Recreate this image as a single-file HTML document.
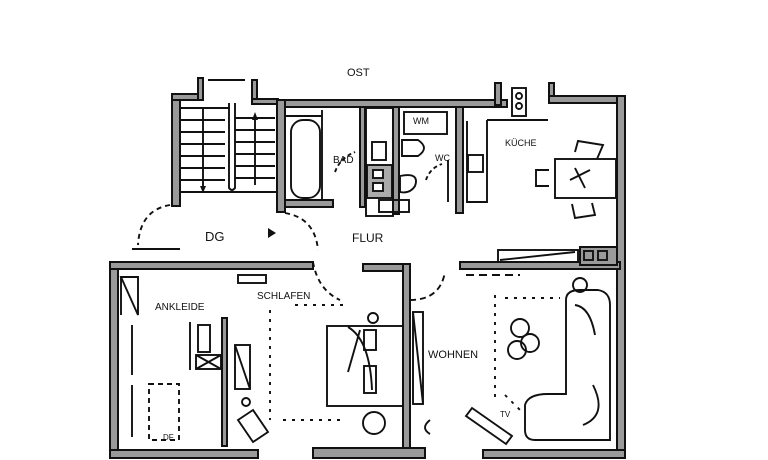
<!DOCTYPE html>
<html><head><style>
html,body{margin:0;padding:0;background:#fff;width:768px;height:460px;overflow:hidden}
svg{display:block}
text{font-family:"Liberation Sans",sans-serif;fill:#111}
</style></head><body>
<svg width="768" height="460" viewBox="0 0 768 460" xmlns="http://www.w3.org/2000/svg">
<g fill="#9a9a9a" stroke="#111" stroke-width="2">
<rect x="172" y="94" width="8" height="112"/>
<rect x="172" y="94" width="30" height="6"/>
<rect x="198" y="78" width="5" height="22"/>
<rect x="252" y="80" width="5" height="22"/>
<rect x="252" y="99" width="26" height="5"/>
<rect x="277" y="100" width="230" height="7"/>
<rect x="277" y="100" width="8" height="112"/>
<rect x="285" y="200" width="48" height="7"/>
<rect x="495" y="83" width="6" height="22"/>
<rect x="549" y="83" width="5" height="20"/>
<rect x="549" y="96" width="76" height="7"/>
<rect x="617" y="96" width="8" height="362"/>
<rect x="393" y="107" width="6" height="107"/>
<rect x="456" y="107" width="7" height="106"/>
<rect x="360" y="107" width="5" height="100"/>
<rect x="110" y="262" width="8" height="196"/>
<rect x="110" y="262" width="203" height="7"/>
<rect x="110" y="450" width="148" height="8"/>
<rect x="222" y="318" width="5" height="128"/>
<rect x="363" y="264" width="47" height="7"/>
<rect x="403" y="264" width="7" height="186"/>
<rect x="313" y="448" width="112" height="10"/>
<rect x="460" y="262" width="160" height="7"/>
<rect x="483" y="450" width="142" height="8"/>
<rect x="580" y="247" width="37" height="18"/>
</g>
<g fill="none" stroke="#111" stroke-width="1.9">
<line x1="180" y1="108" x2="230" y2="108"/><line x1="180" y1="120" x2="225" y2="120"/>
<line x1="180" y1="132" x2="225" y2="132"/><line x1="180" y1="144" x2="225" y2="144"/>
<line x1="180" y1="156" x2="225" y2="156"/><line x1="180" y1="168" x2="225" y2="168"/>
<line x1="180" y1="180" x2="225" y2="180"/><line x1="180" y1="192" x2="277" y2="192"/>
<line x1="235" y1="118" x2="275" y2="118"/><line x1="235" y1="130" x2="275" y2="130"/>
<line x1="235" y1="142" x2="275" y2="142"/><line x1="235" y1="154" x2="275" y2="154"/>
<line x1="235" y1="166" x2="275" y2="166"/><line x1="235" y1="178" x2="275" y2="178"/>
<path d="M229 103 V188 Q232 192 235 188 V103"/>
<line x1="203" y1="108" x2="203" y2="188"/><line x1="255" y1="115" x2="255" y2="185"/>
<line x1="208" y1="80" x2="245" y2="80"/>
<rect x="291" y="120" width="29" height="78" rx="12"/>
<line x1="285" y1="116" x2="322" y2="116"/><line x1="322" y1="110" x2="322" y2="200"/>
<path d="M335 172 Q340 158 355 152" stroke-dasharray="4 3"/>
<rect x="366" y="108" width="27" height="108"/>
<rect x="372" y="142" width="14" height="18"/>
<rect x="367" y="165" width="25" height="33" fill="#aaa"/>
<rect x="373" y="170" width="10" height="8" fill="#fff"/><rect x="373" y="183" width="10" height="8" fill="#fff"/>
<rect x="379" y="200" width="30" height="12"/>
<rect x="404" y="112" width="43" height="22"/>
<path d="M402 140 h16 q12 8 0 16 h-16z"/>
<path d="M400 176 q20 -4 15 10 q-5 8 -15 6z"/>
<path d="M426 180 Q430 168 442 164" stroke-dasharray="4 3"/>
<line x1="448" y1="160" x2="448" y2="202"/>
<rect x="512" y="88" width="14" height="28"/>
<circle cx="519" cy="96" r="3"/><circle cx="519" cy="106" r="3"/>
<polyline points="487,120 487,202 467,202 467,121"/>
<line x1="487" y1="120" x2="548" y2="120"/>
<rect x="468" y="155" width="15" height="17"/>
<rect x="555" y="159" width="61" height="39"/>
<path d="M575 152 l3 -11 l25 4 l-6 14"/>
<path d="M549 170 h-13 v16 h13"/>
<path d="M572 204 l3 14 l20 -3 l-3 -12"/>
<path d="M570 180 l20 -10 M575 168 l10 20"/>
<rect x="498" y="250" width="80" height="12"/><line x1="500" y1="260" x2="575" y2="252"/>
<rect x="584" y="251" width="9" height="9"/><rect x="598" y="251" width="9" height="9"/>
<path d="M170 205 Q140 210 138 245" stroke-dasharray="5 4"/>
<path d="M285 213 Q315 218 318 250" stroke-dasharray="5 4"/>
<line x1="132" y1="249" x2="180" y2="249"/>
<path d="M121 277 h17 v38 z"/><line x1="121" y1="277" x2="121" y2="315"/>
<line x1="132" y1="325" x2="132" y2="375"/><line x1="132" y1="385" x2="132" y2="437"/>
<line x1="190" y1="322" x2="190" y2="370"/>
<rect x="198" y="325" width="12" height="27"/>
<rect x="196" y="355" width="25" height="14"/><path d="M196 355 l25 14 M221 355 l-25 14"/>
<rect x="235" y="345" width="15" height="44"/><line x1="235" y1="345" x2="250" y2="389"/>
<rect x="149" y="384" width="30" height="56" stroke-dasharray="5 4"/>
<circle cx="246" cy="402" r="4"/>
<path d="M238 420 l15 -10 l15 22 l-15 10z"/>
<rect x="238" y="275" width="28" height="8"/>
<path d="M313 262 Q318 290 340 300" stroke-dasharray="5 4"/>
<path d="M270 310 L270 420 M295 305 L345 305 M283 420 L340 420" stroke-dasharray="3 6"/>
<rect x="327" y="326" width="76" height="80"/>
<path d="M348 327 Q370 340 372 390 M348 372 L360 330"/>
<rect x="364" y="330" width="12" height="20"/><rect x="364" y="366" width="12" height="27"/>
<circle cx="373" cy="318" r="5"/>
<circle cx="374" cy="423" r="11"/>
<rect x="413" y="312" width="10" height="92"/><line x1="413" y1="312" x2="423" y2="404"/>
<path d="M410 300 Q440 300 445 272" stroke-dasharray="6 4"/>
<path d="M430 420 q-10 8 0 14"/>
<line x1="466" y1="275" x2="520" y2="275" stroke-dasharray="8 5"/>
<circle cx="580" cy="285" r="7"/>
<path d="M495 295 L495 400 M505 298 L560 298 M505 395 L520 410" stroke-dasharray="3 6"/>
<circle cx="520" cy="328" r="9"/><circle cx="530" cy="343" r="9"/><circle cx="517" cy="350" r="9"/>
<path d="M566 300 Q566 290 580 290 L598 290 Q610 292 610 305 L610 440 L535 440 Q525 440 525 430 L525 405 Q528 394 548 394 L566 394 Z"/>
<path d="M575 305 q15 2 20 30 M593 385 q15 30 -10 40"/>
<path d="M472 408 l40 28 l-6 8 l-40 -28z"/>
</g>
<g fill="#111">
<polygon points="200,186 206,186 203,193"/>
<polygon points="252,120 258,120 255,112"/>
<polygon points="268,228 268,238 276,233"/>
</g>
<g font-size="11">
<text x="347" y="76">OST</text>
<text x="333" y="163" font-size="10">BAD</text>
<text x="413" y="124" font-size="9">WM</text>
<text x="435" y="161" font-size="9">WC</text>
<text x="505" y="146" font-size="9">KÜCHE</text>
<text x="205" y="241" font-size="13">DG</text>
<text x="352" y="242" font-size="12">FLUR</text>
<text x="155" y="310" font-size="10">ANKLEIDE</text>
<text x="257" y="299" font-size="10">SCHLAFEN</text>
<text x="428" y="358" font-size="11">WOHNEN</text>
<text x="500" y="417" font-size="8">TV</text>
<text x="163" y="440" font-size="8">DF</text>
</g>
</svg>
</body></html>
